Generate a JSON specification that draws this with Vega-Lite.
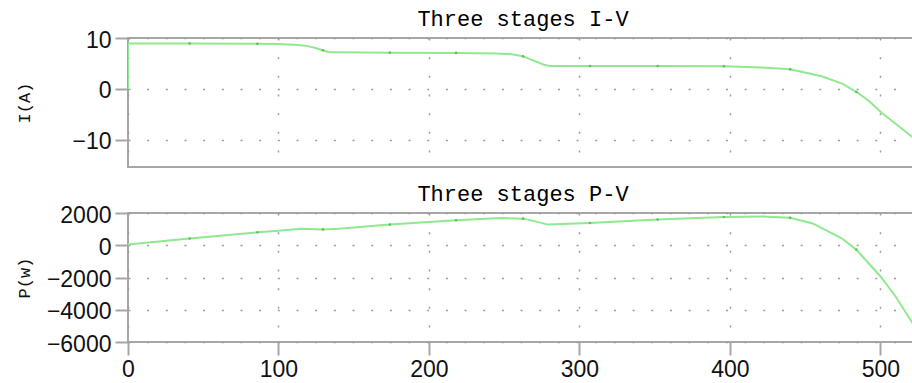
{
  "$schema": "https://vega.github.io/schema/vega-lite/v6.json",
  "background": "white",
  "padding": {"left": 14, "top": 7, "right": 0, "bottom": 0},
  "spacing": 14,
  "config": {
    "view": {"stroke": "#a6a6a6", "strokeWidth": 2},
    "axis": {
      "labelFont": "Liberation Sans",
      "labelFontSize": 23,
      "labelColor": "#111111",
      "labelFlush": false,
      "titleFont": "Liberation Mono",
      "titleFontSize": 17,
      "titleFontWeight": "normal",
      "titleColor": "#111111",
      "tickColor": "#a6a6a6",
      "tickWidth": 2,
      "tickSize": 13,
      "domain": false,
      "gridColor": "#9c9c9c",
      "gridWidth": 1.5,
      "gridDash": [2, 16.67],
      "labelPadding": 4
    },
    "axisY": {"labelOffset": 2, "titleX": -104, "titleBaseline": "middle"},
    "title": {"font": "Liberation Mono", "fontSize": 22, "fontWeight": "normal", "color": "#000000", "offset": 1, "dy": 3}
  },
  "datasets": {
    "iv": [
      {"V": 0, "I": 0}, {"V": 0, "I": 8.9}, {"V": 41, "I": 8.9}, {"V": 86, "I": 8.85},
      {"V": 100, "I": 8.8}, {"V": 110, "I": 8.7}, {"V": 118, "I": 8.5}, {"V": 124, "I": 8.1},
      {"V": 129.5, "I": 7.6}, {"V": 133, "I": 7.25}, {"V": 140, "I": 7.2}, {"V": 174, "I": 7.12},
      {"V": 218, "I": 7.08}, {"V": 245, "I": 6.98}, {"V": 255, "I": 6.8}, {"V": 262.6, "I": 6.4},
      {"V": 270, "I": 5.5}, {"V": 276, "I": 4.8}, {"V": 280, "I": 4.5}, {"V": 307, "I": 4.5},
      {"V": 352, "I": 4.5}, {"V": 396, "I": 4.45}, {"V": 421, "I": 4.2}, {"V": 440, "I": 3.85},
      {"V": 461, "I": 2.5}, {"V": 475, "I": 1.0}, {"V": 485, "I": -0.75}, {"V": 493, "I": -2.5},
      {"V": 501, "I": -4.7}, {"V": 511, "I": -7.0}, {"V": 522, "I": -9.6}, {"V": 526, "I": -10.6}
    ],
    "pv": [
      {"V": 0, "P": 40}, {"V": 41, "P": 420}, {"V": 86, "P": 800}, {"V": 100, "P": 900},
      {"V": 115, "P": 1020}, {"V": 129.5, "P": 980}, {"V": 140, "P": 1030}, {"V": 174, "P": 1280},
      {"V": 218, "P": 1550}, {"V": 248, "P": 1690}, {"V": 262.6, "P": 1650}, {"V": 272, "P": 1450},
      {"V": 279, "P": 1280}, {"V": 307, "P": 1380}, {"V": 352, "P": 1590}, {"V": 396, "P": 1750},
      {"V": 421, "P": 1790}, {"V": 440, "P": 1700}, {"V": 455, "P": 1350}, {"V": 465, "P": 870},
      {"V": 474, "P": 450}, {"V": 484, "P": -270}, {"V": 492, "P": -1100}, {"V": 500, "P": -1920},
      {"V": 510, "P": -3160}, {"V": 522, "P": -4920}, {"V": 526, "P": -5600}
    ],
    "dots": [
      {"V": 41, "I": 8.9, "P": 420}, {"V": 86, "I": 8.85, "P": 800}, {"V": 129.5, "I": 7.6, "P": 980},
      {"V": 174, "I": 7.12, "P": 1280}, {"V": 218, "I": 7.08, "P": 1550}, {"V": 262.6, "I": 6.4, "P": 1650},
      {"V": 307, "I": 4.5, "P": 1380}, {"V": 352, "I": 4.5, "P": 1590}, {"V": 396, "I": 4.45, "P": 1750},
      {"V": 440, "I": 3.85, "P": 1700}, {"V": 484, "I": -0.6, "P": -270}
    ]
  },
  "vconcat": [
    {
      "width": 790,
      "height": 129,
      "title": "Three stages I-V",
      "encoding": {
        "x": {
          "field": "V", "type": "quantitative",
          "scale": {"domain": [0, 525], "nice": false, "zero": false},
          "axis": {"values": [0, 100, 200, 300, 400, 500], "labels": false, "ticks": false, "title": null}
        },
        "y": {
          "field": "I", "type": "quantitative",
          "scale": {"domain": [-15.3, 10], "nice": false},
          "axis": {"values": [-10, 0, 10], "title": "I(A)"}
        }
      },
      "layer": [
        {"data": {"name": "iv"}, "mark": {"type": "line", "color": "#90e890", "strokeWidth": 2, "clip": true}},
        {"data": {"name": "dots"}, "mark": {"type": "point", "filled": true, "size": 7, "color": "#5cc45c", "opacity": 1}}
      ]
    },
    {
      "width": 790,
      "height": 129,
      "title": "Three stages P-V",
      "encoding": {
        "x": {
          "field": "V", "type": "quantitative",
          "scale": {"domain": [0, 525], "nice": false, "zero": false},
          "axis": {"values": [0, 100, 200, 300, 400, 500], "title": null, "labelPadding": 3}
        },
        "y": {
          "field": "P", "type": "quantitative",
          "scale": {"domain": [-6000, 2000], "nice": false},
          "axis": {"values": [-6000, -4000, -2000, 0, 2000], "title": "P(w)", "format": "d"}
        }
      },
      "layer": [
        {"data": {"name": "pv"}, "mark": {"type": "line", "color": "#90e890", "strokeWidth": 2, "clip": true}},
        {"data": {"name": "dots"}, "mark": {"type": "point", "filled": true, "size": 7, "color": "#5cc45c", "opacity": 1}}
      ]
    }
  ]
}
